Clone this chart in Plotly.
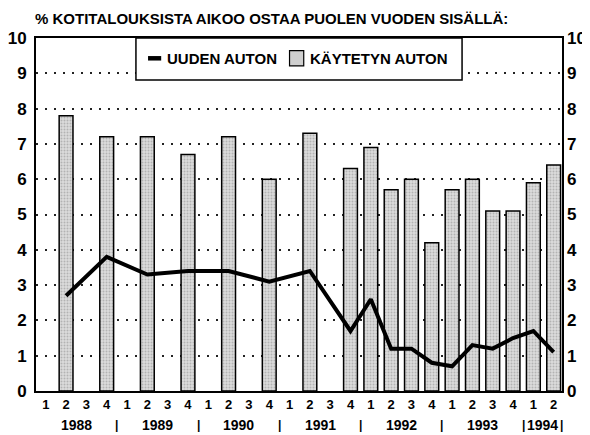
"""Kotitalouksien autonostoaikeet 1988-1994, neljännesvuosittain."""
import plotly.graph_objects as go

QUARTERS = ["1", "2", "3", "4"] * 6 + ["1", "2"]
YEARS = ["1988", "1989", "1990", "1991", "1992", "1993", "1994"]

# käytetyn auton ostoaikeet (% kotitalouksista)
USED = [None, 7.8, None, 7.2, None, 7.2, None, 6.7, None, 7.2, None, 6.0,
        None, 7.3, None, 6.3, 6.9, 5.7, 6.0, 4.2, 5.7, 6.0, 5.1, 5.1, 5.9, 6.4]
# uuden auton ostoaikeet (% kotitalouksista)
NEW = [None, 2.7, None, 3.8, None, 3.3, None, 3.4, None, 3.4, None, 3.1,
       None, 3.4, None, 1.7, 2.6, 1.2, 1.2, 0.8, 0.7, 1.3, 1.2, 1.5, 1.7, 1.1]

FONT = "Liberation Sans, Arial, sans-serif"
idx = list(range(len(QUARTERS)))

fig = go.Figure()
fig.add_trace(
    go.Bar(
        x=idx, y=USED, name="KÄYTETYN AUTON", width=0.68, showlegend=False,
        marker=dict(
            color="#d4d4d4",
            line=dict(color="black", width=1.5),
            pattern=dict(shape=".", size=3, solidity=0.35,
                         fgcolor="#8a8a8a", bgcolor="#dcdcdc"),
        ),
    )
)
fig.add_trace(
    go.Scatter(
        x=idx, y=NEW, name="UUDEN AUTON", mode="lines", connectgaps=True,
        line=dict(color="black", width=4), showlegend=False,
    )
)
# näkymätön jälki oikeaa y-akselia varten
fig.add_trace(
    go.Scatter(x=[0], y=[0], yaxis="y2", mode="markers",
               marker=dict(opacity=0), showlegend=False, hoverinfo="skip")
)

bold = dict(family=FONT, color="black", weight="bold")

annotations = [
    dict(text="% KOTITALOUKSISTA AIKOO OSTAA PUOLEN VUODEN SISÄLLÄ:",
         xref="paper", yref="paper", x=-0.006, y=1.0, yshift=20,
         xanchor="left", yanchor="middle", showarrow=False,
         font=dict(size=15, **bold)),
    # selite
    dict(text="UUDEN AUTON", xref="paper", yref="paper", x=0.245, y=0.9425,
         xanchor="left", yanchor="middle", showarrow=False,
         font=dict(size=15, **bold)),
    dict(text="KÄYTETYN AUTON", xref="paper", yref="paper", x=0.517, y=0.9425,
         xanchor="left", yanchor="middle", showarrow=False,
         font=dict(size=15, **bold)),
]
for i, year in enumerate(YEARS):
    center = 4 * i + 1.5 if year != "1994" else 24.45
    annotations.append(
        dict(text=year, x=center, xref="x", y=0, yref="paper", yshift=-34,
             showarrow=False, yanchor="middle", font=dict(size=14, **bold))
    )
for sep in [-0.5, 3.5, 7.5, 11.5, 15.5, 19.5, 23.5, 25.4]:
    annotations.append(
        dict(text="|", x=sep, xref="x", y=0, yref="paper", yshift=-34,
             showarrow=False, yanchor="middle", font=dict(size=12, **bold))
    )

shapes = [
    # selitelaatikko
    dict(type="rect", xref="paper", yref="paper", x0=0.190, x1=0.810,
         y0=0.881, y1=1.0, fillcolor="white",
         line=dict(color="black", width=1.5), layer="above"),
    dict(type="line", xref="paper", yref="paper", x0=0.213, x1=0.238,
         y0=0.9425, y1=0.9425, line=dict(color="black", width=4.5),
         layer="above"),
    dict(type="rect", xref="paper", yref="paper", x0=0.482, x1=0.509,
         y0=0.921, y1=0.964, fillcolor="#cfcfcf",
         line=dict(color="black", width=1.2), layer="above"),
]

yaxis_common = dict(
    range=[0, 10], tickvals=list(range(11)), ticks="",
    tickfont=dict(size=17, **bold), fixedrange=True, automargin=False,
)

fig.update_layout(
    width=590, height=435,
    # sivun body-marginaali siirtää kuvaa 8 px oikealle ja alas
    margin=dict(l=28, r=36, t=30, b=52),
    paper_bgcolor="white", plot_bgcolor="white",
    font=dict(family=FONT, color="black"),
    barmode="overlay",
    xaxis=dict(
        range=[-0.48, 25.41], tickvals=idx, ticktext=QUARTERS, ticks="",
        showgrid=False, zeroline=False, automargin=False,
        showline=True, mirror=True, linecolor="black", linewidth=2,
        tickfont=dict(size=13, **bold),
    ),
    yaxis=dict(
        **yaxis_common,
        showgrid=True, gridcolor="#222", gridwidth=1.5,
        griddash="2px,7px", zeroline=False,
        showline=True, mirror=True, linecolor="black", linewidth=2,
        ticklabelstandoff=4,
    ),
    yaxis2=dict(
        **yaxis_common, overlaying="y", side="right",
        showgrid=False, zeroline=False, showline=False,
        ticklabelstandoff=4,
    ),
    annotations=annotations,
    shapes=shapes,
    showlegend=False,
)

fig.write_html("out.html")
